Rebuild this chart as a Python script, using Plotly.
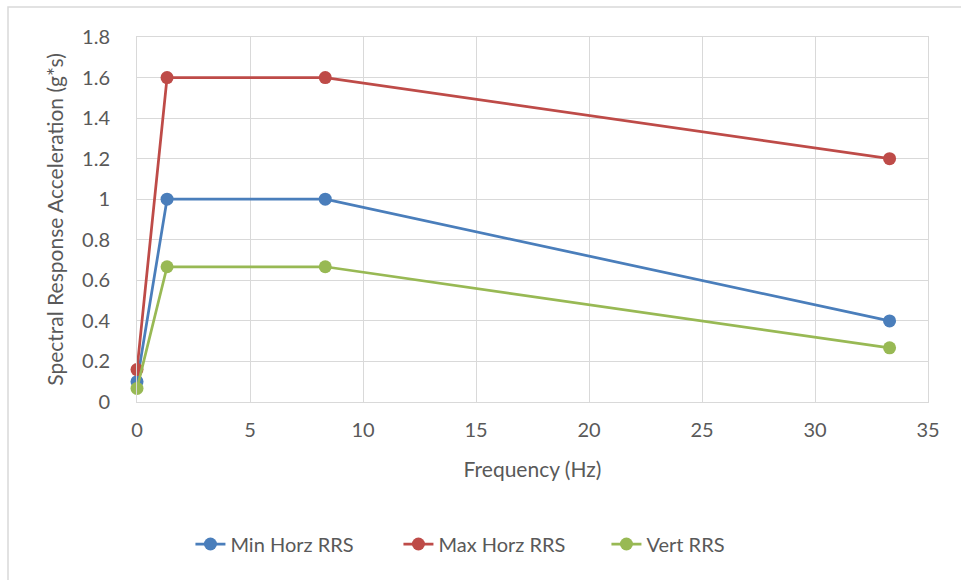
import plotly.graph_objects as go

freq = [0.0, 1.33, 8.33, 33.3]
min_horz = [0.1, 1.0, 1.0, 0.4]
max_horz = [0.16, 1.6, 1.6, 1.2]
vert = [0.067, 0.667, 0.667, 0.267]

names = ["Min Horz RRS", "Max Horz RRS", "Vert RRS"]
colors = ["#4A7EBB", "#BE4B48", "#98B954"]
series = [min_horz, max_horz, vert]

fig = go.Figure()
for n, c, s in zip(names, colors, series):
    fig.add_trace(go.Scatter(x=freq, y=s, mode="lines+markers", name=n,
                             line=dict(color=c, width=2.75),
                             marker=dict(color=c, size=13), cliponaxis=False))

W, H = 961, 580
ml, mr, mt, mb = 137, 33, 37, 178
pw, ph = W - ml - mr, H - mt - mb

fig.update_layout(
    width=W, height=H,
    margin=dict(l=ml, r=mr, t=mt, b=mb),
    paper_bgcolor="white", plot_bgcolor="white",
    font=dict(family="Lato, 'Open Sans', sans-serif", color="#595959", size=20),
    xaxis=dict(range=[0, 35], dtick=5, showgrid=True, gridcolor="#d9d9d9", gridwidth=1,
               zeroline=False, showline=True, linecolor="#d9d9d9", mirror=True,
               ticks="", tickfont=dict(size=20, color="#595959"), ticklabelstandoff=10,
               title=dict(text="Frequency (Hz)", font=dict(size=21, color="#595959"), standoff=22)),
    yaxis=dict(range=[0, 1.8], dtick=0.2, showgrid=True, gridcolor="#d9d9d9", gridwidth=1,
               zeroline=False, showline=True, linecolor="#d9d9d9", mirror=True,
               ticks="", tickfont=dict(size=20, color="#595959"), ticklabelstandoff=22,
               title=dict(text="Spectral Response Acceleration (g*s)", font=dict(size=21, color="#595959"), standoff=12)),
    legend=dict(orientation="h", x=0.462, xanchor="center", y=(H - 544 - mb) / ph, yanchor="middle",
                font=dict(size=20, color="#595959"), entrywidth=163, entrywidthmode="pixels",
                traceorder="normal"),
    shapes=[dict(type="rect", xref="paper", yref="paper",
                 x0=(8 - ml) / pw, x1=(W + 10 - ml) / pw,
                 y0=(H - (H + 10) - mb) / ph, y1=(H - 7 - mb) / ph,
                 line=dict(color="#d9d9d9", width=1.5), fillcolor="rgba(0,0,0,0)", layer="below")],
)

fig.write_html("out.html")
